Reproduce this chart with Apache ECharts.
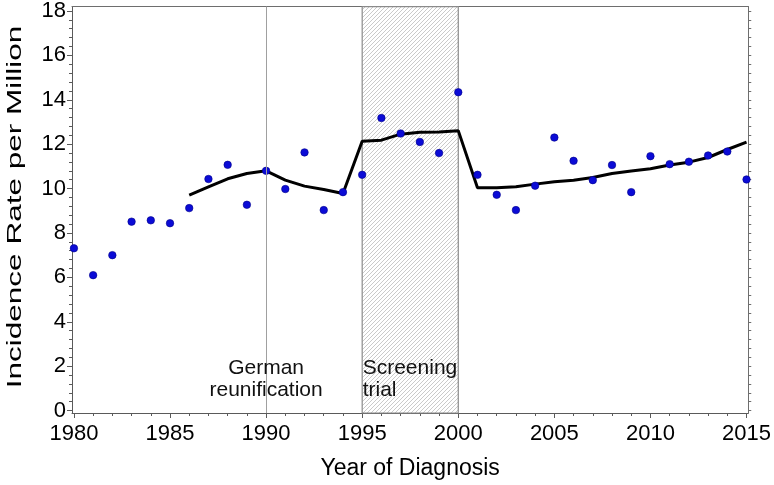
<!DOCTYPE html>
<html>
<head>
<meta charset="utf-8">
<script src="https://cdn.jsdelivr.net/npm/echarts@6/dist/echarts.min.js"></script>
<style>
html,body{margin:0;padding:0;background:#fff;}
#chart{width:774px;height:485px;}
</style>
</head>
<body>
<div id="chart"></div>
<script>
// ---- data ----
const years = [1980,1981,1982,1983,1984,1985,1986,1987,1988,1989,1990,1991,1992,1993,1994,1995,1996,1997,1998,1999,2000,2001,2002,2003,2004,2005,2006,2007,2008,2009,2010,2011,2012,2013,2014,2015];
const observedRate = [7.31,6.10,7.00,8.51,8.57,8.44,9.12,10.43,11.07,9.27,10.80,9.98,11.63,9.03,9.84,10.62,13.18,12.48,12.10,11.60,14.34,10.62,9.72,9.03,10.13,12.30,11.25,10.38,11.06,9.84,11.46,11.10,11.21,11.49,11.67,10.41];
const trendYears = [1986,1987,1988,1989,1990,1991,1992,1993,1994,1995,1996,1997,1998,1999,2000,2001,2002,2003,2004,2005,2006,2007,2008,2009,2010,2011,2012,2013,2014,2015];
const trendRate = [9.71,10.08,10.44,10.68,10.80,10.38,10.11,9.96,9.78,12.13,12.18,12.45,12.54,12.55,12.61,10.04,10.04,10.08,10.20,10.31,10.38,10.50,10.68,10.79,10.89,11.06,11.19,11.40,11.76,12.09];
const xTickLabels = [1980,1985,1990,1995,2000,2005,2010,2015];
const yTickLabels = [0,2,4,6,8,10,12,14,16,18];
const reunificationYear = 1990;
const screeningTrial = [1995, 2000];
const annotationTexts = ['German\nreunification', 'Screening\ntrial'];
const axisTitles = {x: 'Year of Diagnosis', y: 'Incidence Rate per Million'};

// minor tick positions
const xMinorTicks = years.slice();
const yMinorTicks = [];
for (let i = 0; i <= 45; i++) yMinorTicks.push(+(i * 0.4).toFixed(1));

// ---- styling ----
const FONT = 'Liberation Sans, Arial, sans-serif';
const AXIS_COLOR = '#5a5a5a';
const XMIN = 1979.9, XMAX = 2015.09;
const YMIN = -0.11, YMAX = 18.2;

// hatch pattern
const pc = document.createElement('canvas');
pc.width = 4; pc.height = 4;
const g = pc.getContext('2d');
g.fillStyle = '#ffffff'; g.fillRect(0,0,4,4);
g.strokeStyle = '#a6a6a6'; g.lineWidth = 0.6;
g.beginPath();
g.moveTo(0,4); g.lineTo(4,0);
g.moveTo(-1,1); g.lineTo(1,-1);
g.moveTo(3,5); g.lineTo(5,3);
g.stroke();

const chart = echarts.init(document.getElementById('chart'), null, {renderer: 'canvas'});
const fmt = v => String(v);

const option = {
  animation: false,
  backgroundColor: '#ffffff',
  grid: {left: 72, right: 25, top: 6, bottom: 71, containLabel: false},
  graphic: [{
    type: 'text', x: 15, y: 207, rotation: Math.PI / 2, scaleX: 1.5, scaleY: 1,
    silent: true,
    style: {text: axisTitles.y, fontSize: 21, fontFamily: FONT, fill: '#000', align: 'center', verticalAlign: 'middle'}
  }],
  xAxis: [
    {
      type: 'value', position: 'bottom', min: XMIN, max: XMAX,
      axisLine: {show: true, onZero: false, lineStyle: {color: AXIS_COLOR, width: 1}},
      axisTick: {show: true, customValues: xTickLabels, length: 5, lineStyle: {color: AXIS_COLOR}},
      axisLabel: {show: true, customValues: xTickLabels, formatter: fmt, fontSize: 22, color: '#000', fontFamily: FONT, margin: 10},
      splitLine: {show: false},
      name: axisTitles.x, nameLocation: 'middle', nameGap: 44,
      nameTextStyle: {fontSize: 23, color: '#000', fontFamily: FONT}
    },
    {
      type: 'value', position: 'bottom', min: XMIN, max: XMAX,
      axisLine: {show: false, onZero: false},
      axisTick: {show: true, customValues: xMinorTicks, length: 3, lineStyle: {color: AXIS_COLOR}},
      axisLabel: {show: false},
      splitLine: {show: false}
    },
    {
      type: 'value', position: 'top', min: XMIN, max: XMAX,
      axisLine: {show: true, onZero: false, lineStyle: {color: '#6e6e6e', width: 1}},
      axisTick: {show: false}, axisLabel: {show: false}, splitLine: {show: false}
    }
  ],
  yAxis: [
    {
      type: 'value', position: 'left', min: YMIN, max: YMAX,
      axisLine: {show: true, onZero: false, lineStyle: {color: AXIS_COLOR, width: 1}},
      axisTick: {show: true, customValues: yTickLabels, length: 5, lineStyle: {color: AXIS_COLOR}},
      axisLabel: {show: true, customValues: yTickLabels, formatter: fmt, fontSize: 22, color: '#000', fontFamily: FONT, margin: 6},
      splitLine: {show: false}
    },
    {
      type: 'value', position: 'left', min: YMIN, max: YMAX,
      axisLine: {show: false, onZero: false},
      axisTick: {show: true, customValues: yMinorTicks, length: 3, lineStyle: {color: AXIS_COLOR}},
      axisLabel: {show: false}, splitLine: {show: false}
    },
    {
      type: 'value', position: 'right', min: YMIN, max: YMAX,
      axisLine: {show: true, onZero: false, lineStyle: {color: '#6e6e6e', width: 1}},
      axisTick: {show: true, customValues: yMinorTicks, length: 3, lineStyle: {color: '#6e6e6e'}},
      axisLabel: {show: false}, splitLine: {show: false}
    }
  ],
  series: [
    {
      type: 'line', name: 'trend', xAxisIndex: 0, yAxisIndex: 0, z: 3,
      data: trendYears.map((y, i) => [y, trendRate[i]]),
      symbol: 'none', smooth: false,
      lineStyle: {color: '#000', width: 3},
      markArea: {
        silent: true,
        itemStyle: {color: {image: pc, repeat: 'repeat'}, borderColor: '#8a8a8a', borderWidth: 1.2},
        data: [[{xAxis: screeningTrial[0]}, {xAxis: screeningTrial[1]}]]
      },
      markLine: {
        silent: true, symbol: 'none',
        lineStyle: {color: '#a0a0a0', width: 1, type: 'solid'},
        label: {show: false},
        data: [{xAxis: reunificationYear}]
      },
      markPoint: {
        silent: true,
        symbol: 'circle', symbolSize: 1,
        itemStyle: {color: 'rgba(0,0,0,0)'},
        data: [
          {coord: [reunificationYear, 1.41], value: 0,
           label: {show: true, position: 'inside', formatter: annotationTexts[0], align: 'center',
                   fontSize: 21, lineHeight: 22, color: '#111', fontFamily: FONT}},
          {coord: [screeningTrial[0], 1.41], value: 0,
           label: {show: true, position: 'right', distance: 0, formatter: annotationTexts[1], align: 'left',
                   fontSize: 21, lineHeight: 22, color: '#111', fontFamily: FONT}}
        ]
      }
    },
    {
      type: 'scatter', name: 'observed', xAxisIndex: 0, yAxisIndex: 0, z: 4,
      data: years.map((y, i) => [y, observedRate[i]]),
      symbol: 'circle', symbolSize: 7.5,
      itemStyle: {color: '#0b0bd6', borderColor: '#00008a', borderWidth: 0.6, opacity: 1}
    }
  ]
};
chart.setOption(option);
</script>
</body>
</html>
